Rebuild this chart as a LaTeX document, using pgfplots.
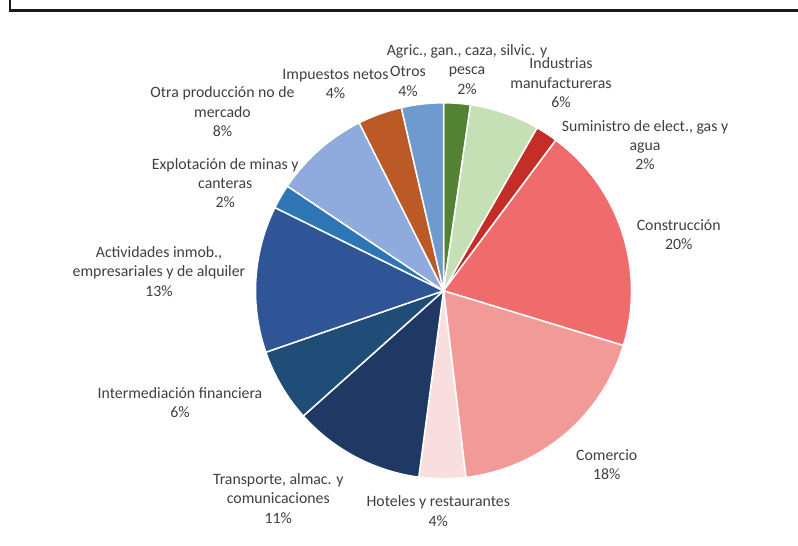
\documentclass[border=0pt]{standalone}
\usepackage{pgfplots}
\usepackage{pgfplotstable}
\pgfplotsset{compat=1.18}
\usepackage{fontspec}
\setmainfont{Carlito}

\definecolor{cAgr}{HTML}{548235}
\definecolor{cInd}{HTML}{C5E0B4}
\definecolor{cSum}{HTML}{C42D28}
\definecolor{cCon}{HTML}{EF6B6C}
\definecolor{cCom}{HTML}{F29A98}
\definecolor{cHot}{HTML}{F9DEE0}
\definecolor{cTra}{HTML}{203864}
\definecolor{cInt}{HTML}{1F4D77}
\definecolor{cAct}{HTML}{2F5597}
\definecolor{cExp}{HTML}{2E75B6}
\definecolor{cOtr}{HTML}{8FAADC}
\definecolor{cImp}{HTML}{BB5A26}
\definecolor{cOts}{HTML}{6E9AD0}
\definecolor{lblgray}{HTML}{3F3F3F}

\tikzset{lbl/.style={align=center, text=lblgray, inner sep=0pt,
    font=\fontsize{15.8}{19.3}\selectfont}}

% share of each sector, clockwise from 12 o'clock
\pgfplotstableread{
value colour
2.3  cAgr
6.0  cInd
1.9  cSum
19.5 cCon
18.4 cCom
4.0  cHot
11.3 cTra
6.3  cInt
12.6 cAct
2.1  cExp
8.2  cOtr
3.8  cImp
3.6  cOts
}\piedata

\begin{document}
\begin{tikzpicture}
\begin{axis}[
  scale only axis, width=798pt, height=546pt,
  xmin=0, xmax=798, ymin=0, ymax=546,
  hide axis, clip=false,
]
\coordinate (ll) at (axis cs:0,0);
\coordinate (ur) at (axis cs:798,546);

\pgfplotstablegetrowsof{\piedata}
\pgfmathtruncatemacro{\nrows}{\pgfplotsretval-1}
\def\cumval{0}
\pgfplotsforeachungrouped \i in {0,...,\nrows}{%
  \pgfplotstablegetelem{\i}{value}\of\piedata \let\sval\pgfplotsretval
  \pgfplotstablegetelem{\i}{colour}\of\piedata \let\scol\pgfplotsretval
  \pgfmathsetmacro{\sa}{90-3.6*\cumval}%
  \pgfmathsetmacro{\sb}{90-3.6*(\cumval+\sval)}%
  \edef\temp{\noexpand\filldraw[fill=\scol, draw=white, line width=1.5pt, line join=round]
    (axis cs:443.5,255.2) -- ++(\sa:188pt) arc[start angle=\sa, end angle=\sb, radius=188pt] -- cycle;}%
  \temp
  \pgfmathsetmacro{\cumval}{\cumval+\sval}%
  \xdef\cumval{\cumval}%
}

\node[lbl] at (axis cs:467,476.5) {Agric., gan., caza, silvic. y\\pesca\\2\%};
\node[lbl] at (axis cs:408,464.7) {Otros\\4\%};
\node[lbl] at (axis cs:335.5,462) {Impuestos netos\\4\%};
\node[lbl] at (axis cs:222.5,434.3) {Otra producción no de\\mercado\\8\%};
\node[lbl] at (axis cs:225.3,363) {Explotación de minas y\\canteras\\2\%};
\node[lbl] at (axis cs:159,274.6) {Actividades inmob.,\\empresariales y de alquiler\\13\%};
\node[lbl] at (axis cs:180,143.5) {Intermediación financiera\\6\%};
\node[lbl] at (axis cs:278.3,47.5) {Transporte, almac. y\\comunicaciones\\11\%};
\node[lbl] at (axis cs:438.3,35) {Hoteles y restaurantes\\4\%};
\node[lbl] at (axis cs:606.7,81.5) {Comercio\\18\%};
\node[lbl] at (axis cs:678.7,311.3) {Construcción\\20\%};
\node[lbl] at (axis cs:645,401) {Suministro de elect., gas y\\agua\\2\%};
\node[lbl] at (axis cs:561,463.2) {Industrias\\manufactureras\\6\%};

\draw[line width=2.2pt, black!90] (axis cs:10.3,546) -- (axis cs:10.3,535.5) -- (axis cs:798,535.5);
\end{axis}
\pgfresetboundingbox
\path[use as bounding box] (ll) rectangle (ur);
\end{tikzpicture}
\end{document}
